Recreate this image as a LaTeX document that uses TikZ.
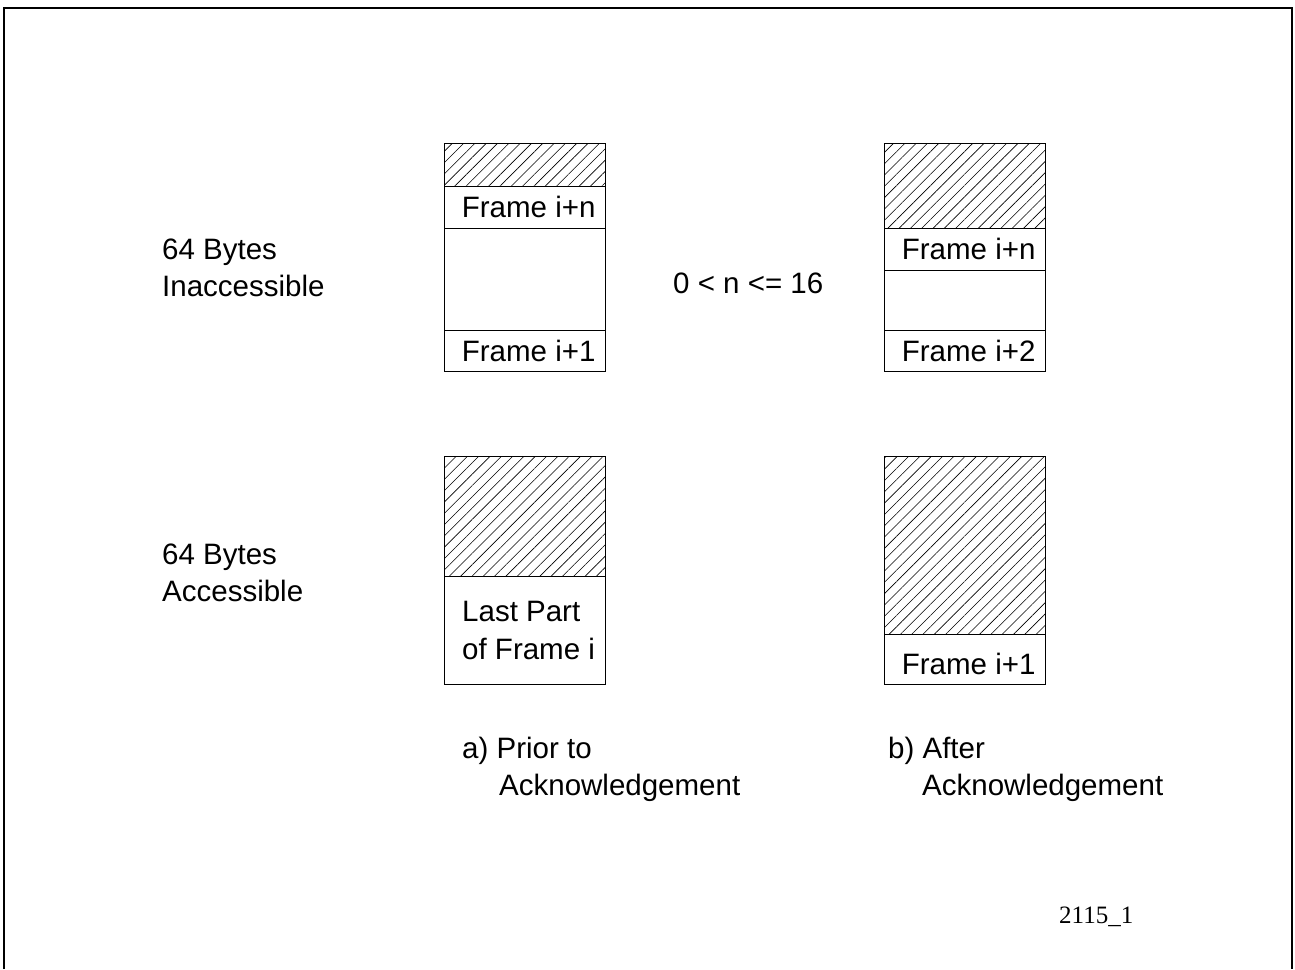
\documentclass[tikz,border=0pt]{standalone}
\usepackage{fontspec}
\setmainfont{Liberation Sans}
\newfontfamily\figidfont{Liberation Serif}
\usetikzlibrary{patterns.meta,positioning}

\begin{document}
\begin{tikzpicture}[
  x=1pt, y=-1pt,
  font=\fontsize{29.5}{37}\selectfont,
  cell/.style={draw, line width=0.9pt, minimum width=161pt, inner sep=0pt, outer sep=0pt},
  slot/.style={cell, text width=141pt, align=flush right},
  hatch/.style={cell, pattern={Lines[angle=45, distance=8pt, line width=0.6pt]}},
  note/.style={anchor=north west, inner sep=0pt, align=left},
]
\useasboundingbox (0,0) rectangle (1295,969);

% ---------- outer frame ----------
\draw[line width=1.6pt] (4,969) -- (4,8) -- (1292,8) -- (1292,969);

% ---------- row labels ----------
\node[note] (Linacc) at (162,239) {64 Bytes\\Inaccessible};
\node[note] (Lacc)   at (162,544) {64 Bytes\\Accessible};

% ================= a) prior to acknowledgement =================
\node[hatch, minimum height=42.7pt, anchor=north west] (Atop) at (444.5,143.3) {};
\node[slot, minimum height=42.7pt, below=0pt of Atop] (Ain) {\mbox{Frame i+n}};
\node[cell, minimum height=101.3pt, below=0pt of Ain] (Agap) {};
\node[slot, minimum height=41.3pt, below=0pt of Agap] (Ai1) {\mbox{Frame i+1}};

\node[hatch, minimum height=119.3pt, anchor=north west] (Abot) at (444.5,456.7) {};
\node[cell, minimum height=108.7pt, below=0pt of Abot] (Alast) {};
\node[note] (Alast_txt) at (462,600.5) {Last Part\\[1pt]of Frame i};

\node[note] (Acap) at (462,737) {a) Prior to\\\hspace*{37pt}Acknowledgement};

% ---------- window size ----------
\node[anchor=base west, inner sep=0pt] (range) at (673,293) {0 < n <= 16};

% ================= b) after acknowledgement =================
\node[hatch, minimum height=85.4pt, anchor=north west] (Btop) at (884.5,143.3) {};
\node[slot, minimum height=41.3pt, below=0pt of Btop] (Bin) {\mbox{Frame i+n}};
\node[cell, minimum height=60pt, below=0pt of Bin] (Bgap) {};
\node[slot, minimum height=41.3pt, below=0pt of Bgap] (Bi2) {\mbox{Frame i+2}};

\node[hatch, minimum height=177.3pt, anchor=north west] (Bbot) at (884.5,456.7) {};
\node[slot, minimum height=50.7pt, text height=30pt, below=0pt of Bbot] (Bi1) {\mbox{Frame i+1}};

\node[note] (Bcap) at (888,737) {b) After\\\hspace*{34pt}Acknowledgement};

% ---------- figure id ----------
\node[anchor=base west, inner sep=0pt, font=\figidfont\fontsize{25}{30}\selectfont] (figid) at (1059,923) {2115\_1};
\end{tikzpicture}
\end{document}
